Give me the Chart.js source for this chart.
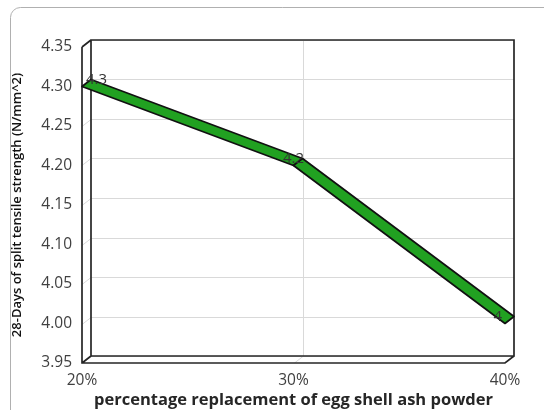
<!DOCTYPE html>
<html><head><meta charset="utf-8">
<script src="https://cdn.jsdelivr.net/npm/chart.js@4.4.1/dist/chart.umd.min.js"></script>
<style>html,body{margin:0;padding:0;background:#fff;}#wrap{width:544px;height:410px;position:relative;}</style>
</head><body><div id="wrap"><canvas id="c" width="544" height="410"></canvas></div>
<script>
const categories = ['20%', '30%', '40%'];
const strengthValues = [4.3, 4.2, 4.0];
const dataLabels = ['4.3', '4.2', '4'];
const yTicks = [3.95, 4.00, 4.05, 4.10, 4.15, 4.20, 4.25, 4.30, 4.35];
const yTitle = '28-Days of split tensile strength (N/mm^2)';
const xTitle = 'percentage replacement of egg shell ash powder';

const DX = 9, DY = 7;
const FONT = "'Open Sans', sans-serif";

const box3d = {
  id: 'box3d',
  beforeDraw(chart) {
    const ctx = chart.ctx;
    ctx.save();
    ctx.strokeStyle = '#b0b0b0';
    ctx.lineWidth = 1;
    ctx.beginPath();
    ctx.roundRect(10.5, 7.5, 570, 430, 10);
    ctx.stroke();
    ctx.restore();
  },
  beforeDatasetsDraw(chart) {
    const {ctx, chartArea: a, scales: {x, y}} = chart;
    ctx.save();
    ctx.strokeStyle = '#d9d9d9';
    ctx.lineWidth = 1;
    y.ticks.forEach(t => {
      const py = Math.round(y.getPixelForValue(t.value)) + 0.5;
      ctx.beginPath();
      ctx.moveTo(a.left + DX, py - DY);
      ctx.lineTo(a.right + DX, py - DY);
      ctx.moveTo(a.left, py);
      ctx.lineTo(a.left + DX, py - DY);
      ctx.stroke();
    });
    categories.forEach((c, i) => {
      if (i === 0 || i === categories.length - 1) return;
      const px = Math.round(x.getPixelForValue(i)) + 0.5;
      ctx.beginPath();
      ctx.moveTo(px + DX, a.top - DY);
      ctx.lineTo(px + DX, a.bottom - DY);
      ctx.moveTo(px, a.bottom);
      ctx.lineTo(px + DX, a.bottom - DY);
      ctx.stroke();
    });
    ctx.strokeStyle = '#262626';
    ctx.lineWidth = 1.7;
    ctx.beginPath();
    ctx.rect(a.left + DX, a.top - DY, a.right - a.left, a.bottom - a.top);
    ctx.moveTo(a.left, a.top);
    ctx.lineTo(a.left + DX, a.top - DY);
    ctx.moveTo(a.left, a.top);
    ctx.lineTo(a.left, a.bottom);
    ctx.lineTo(a.right, a.bottom);
    ctx.lineTo(a.right + DX, a.bottom - DY);
    ctx.moveTo(a.left, a.bottom);
    ctx.lineTo(a.left + DX, a.bottom - DY);
    ctx.stroke();
    ctx.restore();
  },
  afterDatasetsDraw(chart) {
    const {ctx, chartArea: a} = chart;
    const pts = chart.getDatasetMeta(0).data;
    ctx.save();
    ctx.fillStyle = '#21a121';
    ctx.strokeStyle = '#111';
    ctx.lineWidth = 1.7;
    ctx.lineJoin = 'round';
    for (let i = 0; i < pts.length - 1; i++) {
      const p0 = pts[i], p1 = pts[i + 1];
      ctx.beginPath();
      ctx.moveTo(p0.x, p0.y);
      ctx.lineTo(p1.x, p1.y);
      ctx.lineTo(p1.x + DX, p1.y - DY);
      ctx.lineTo(p0.x + DX, p0.y - DY);
      ctx.closePath();
      ctx.fill();
      ctx.stroke();
    }
    ctx.fillStyle = '#333';
    ctx.font = "15px " + FONT;
    ctx.textAlign = 'center';
    ctx.textBaseline = 'middle';
    pts.forEach((p, i) => {
      const w = ctx.measureText(dataLabels[i]).width;
      let cx = p.x;
      cx = Math.max(cx, a.left + 4 + w / 2);
      cx = Math.min(cx, a.right - 3 - w / 2);
      ctx.fillText(dataLabels[i], cx, p.y - 6.5);
    });
    ctx.restore();
  }
};

new Chart(document.getElementById('c'), {
  type: 'line',
  data: {
    labels: categories,
    datasets: [{
      data: strengthValues,
      showLine: false,
      pointRadius: 0,
      pointHoverRadius: 0
    }]
  },
  options: {
    responsive: false,
    animation: false,
    events: [],
    layout: { padding: { left: 0, top: 47, right: 39, bottom: 0 } },
    plugins: { legend: { display: false }, tooltip: { enabled: false } },
    scales: {
      x: {
        type: 'category',
        offset: false,
        grid: { display: false, drawTicks: false },
        border: { display: false },
        ticks: { color: '#404040', font: { family: FONT, size: 15.5 }, padding: 8, maxRotation: 0, autoSkip: false },
        title: { display: true, text: xTitle, color: '#262626', font: { family: FONT, size: 16.5, weight: 'bold' }, padding: { top: 0, bottom: 0 } },
        afterFit(s) { s.height = 47; }
      },
      y: {
        min: 3.95, max: 4.35,
        afterBuildTicks(s) { s.ticks = yTicks.map(v => ({ value: v })); },
        grid: { display: false, drawTicks: false },
        border: { display: false },
        ticks: { color: '#404040', font: { family: FONT, size: 15.5 }, padding: 10, callback: v => Number(v).toFixed(2) },
        title: { display: true, text: yTitle, color: '#111', font: { family: FONT, size: 13, weight: '600' }, padding: { top: 9, bottom: 0 } },
        afterFit(s) { s.width = 82; }
      }
    }
  },
  plugins: [box3d]
});
</script>
</body></html>
